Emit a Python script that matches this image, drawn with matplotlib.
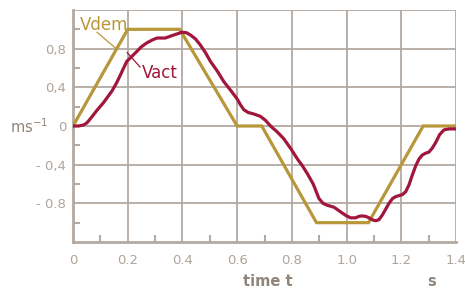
import numpy as np
import matplotlib.pyplot as plt

# demanded velocity (piecewise linear profile)
t_dem = [0, 0.2, 0.39, 0.6, 0.69, 0.89, 1.08, 1.28, 1.4]
v_dem = [0, 1.0, 1.0, 0.0, 0.0, -1.0, -1.0, 0.0, 0.0]

t_act = [0, 0.02, 0.038, 0.05, 0.062, 0.087, 0.111, 0.142, 0.16, 0.172, 0.185, 0.197,
         0.215, 0.233, 0.25, 0.27, 0.29, 0.307, 0.322, 0.337, 0.352,
         0.367, 0.383, 0.398, 0.415, 0.43, 0.448, 0.465, 0.484, 0.502, 0.527, 0.551,
         0.576, 0.60, 0.612, 0.624, 0.64, 0.66, 0.685, 0.703, 0.722, 0.746, 0.77,
         0.795, 0.82, 0.838, 0.856, 0.878, 0.899, 0.914, 0.929, 0.942, 0.954, 0.969,
         0.984, 1.0, 1.015, 1.033, 1.045, 1.057, 1.07, 1.082, 1.094, 1.106, 1.118,
         1.131, 1.143, 1.155, 1.168, 1.18, 1.192, 1.204, 1.216, 1.228, 1.24, 1.253,
         1.265, 1.277, 1.29, 1.301, 1.313, 1.326, 1.34, 1.356, 1.375, 1.40]
v_act = [0, 0.0, 0.01, 0.03, 0.07, 0.16, 0.24, 0.36, 0.45, 0.52, 0.60, 0.67,
         0.72, 0.77, 0.82, 0.86, 0.89, 0.91, 0.91, 0.91, 0.925,
         0.94, 0.955, 0.97, 0.965, 0.94, 0.90, 0.84, 0.76, 0.67, 0.57, 0.46,
         0.37, 0.28, 0.22, 0.17, 0.14, 0.125, 0.10, 0.06, 0.0, -0.06, -0.13,
         -0.23, -0.34, -0.41, -0.49, -0.60, -0.75, -0.80, -0.82, -0.83, -0.84, -0.87,
         -0.90, -0.93, -0.95, -0.95, -0.935, -0.93, -0.935, -0.95, -0.97, -0.98, -0.97,
         -0.92, -0.86, -0.80, -0.75, -0.73, -0.72, -0.71, -0.68, -0.61, -0.51, -0.41,
         -0.34, -0.30, -0.28, -0.27, -0.23, -0.17, -0.09, -0.04, -0.03, -0.03]

x_ticks = [0, 0.2, 0.4, 0.6, 0.8, 1.0, 1.2, 1.4]
x_labels = ['0', '0.2', '0.4', '0.6', '0.8', '1.0', '1.2', '1.4']
y_ticks = [-0.8, -0.4, 0, 0.4, 0.8]
y_labels = ['- 0.8', '- 0,4', '0', '0,4', '0,8']

gold = '#b8973a'
red = '#a0163c'
grid = '#b3aaa1'
txt = '#aea59b'
dark = '#8f857b'

W, H = 465, 291
fig = plt.figure(figsize=(W / 100, H / 100), dpi=100)
ax = fig.add_axes([73 / W, 1 - 242 / H, 383 / W, 232 / H])

ax.plot(t_dem, v_dem, color=gold, lw=2.3, zorder=3, solid_joinstyle='miter')
ax.plot(t_act, v_act, color=red, lw=2.3, zorder=4, solid_joinstyle='round')

ax.set_xlim(0, 1.4)
ax.set_ylim(-1.2, 1.2)

for x in x_ticks[1:]:
    ax.axvline(x, color=grid, lw=1.3, zorder=1)
for y in [-0.8, -0.4, 0, 0.4, 0.8, 1.2]:
    ax.axhline(y, color=grid, lw=1.3, zorder=1)

for s in ['top', 'right']:
    ax.spines[s].set_visible(False)
for s in ['left', 'bottom']:
    ax.spines[s].set_color(grid)
    ax.spines[s].set_linewidth(2)

ax.set_xticks(x_ticks)
ax.set_xticklabels(x_labels)
ax.set_yticks(y_ticks)
ax.set_yticklabels(y_labels)
ax.set_xticks([0.1, 0.3, 0.5, 0.7, 0.9, 1.1, 1.3], minor=True)
ax.set_yticks([-1.0, -0.6, -0.2, 0.2, 0.6, 1.0], minor=True)
ax.tick_params(which='major', length=0, colors=txt, labelsize=9.5)
ax.tick_params(axis='x', which='major', pad=9)
ax.tick_params(axis='y', which='major', pad=5)
ax.tick_params(which='minor', direction='in', length=5, width=1.5, color=grid)

fig.text(10 / W, 1 - 127 / H, 'ms$^{\\mathregular{-1}}$', color=dark,
         fontsize=10.5, ha='left', va='center')
fig.text(268 / W, 1 - 282 / H, 'time t', color=dark, fontsize=10.5,
         fontweight='bold', ha='center', va='center')
fig.text(432 / W, 1 - 282 / H, 's', color=dark, fontsize=10.5,
         fontweight='bold', ha='center', va='center')

ax.text(0.025, 1.05, 'Vdem', color=gold, fontsize=12, ha='left', va='center')
ax.plot([0.088, 0.158], [0.97, 0.80], color=gold, lw=0.9)
ax.text(0.253, 0.55, 'Vact', color=red, fontsize=12, ha='left', va='center')
ax.plot([0.198, 0.245], [0.76, 0.61], color=red, lw=0.9)

fig.savefig('out.png', dpi=100)
